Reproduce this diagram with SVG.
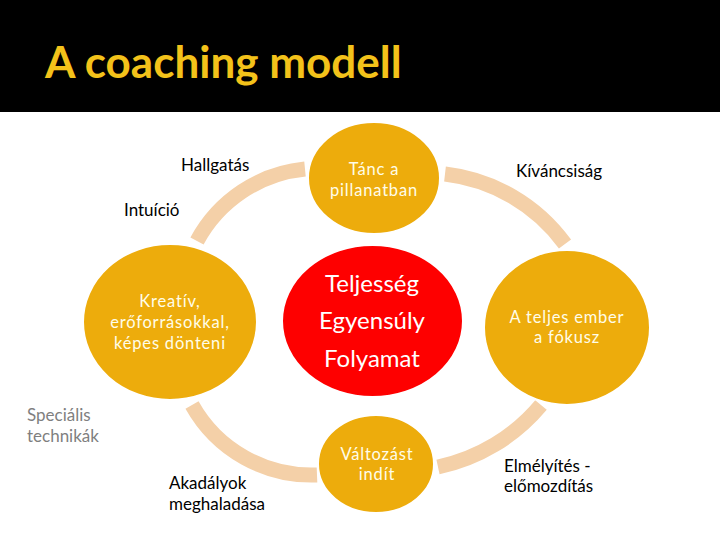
<svg xmlns="http://www.w3.org/2000/svg" width="720" height="540" viewBox="0 0 720 540">
  <style>
    .lbl { font-family: Lato, "Open Sans", "Liberation Sans", sans-serif; font-size: 17px; fill: #000; }
    .gray { fill: #7F7F7F; }
    .node { fill: #EDAC0C; stroke: #FFFFFF; stroke-width: 2; }
    .core { fill: #FE0000; stroke: #FFFFFF; stroke-width: 2; }
    .ntxt { font-family: Lato, "Open Sans", "Liberation Sans", sans-serif; font-size: 16.5px; fill: #FFFDE8; text-anchor: middle; letter-spacing: 0.8px; }
    .ctxt { font-family: Lato, "Open Sans", "Liberation Sans", sans-serif; font-size: 24px; fill: #FFFFFF; text-anchor: middle; }
    .arc { fill: none; stroke: #F4D0A8; stroke-width: 15; stroke-linecap: butt; }
  </style>
  <rect x="0" y="0" width="720" height="540" fill="#FFFFFF"/>
  <rect x="0" y="0" width="720" height="112" fill="#000000"/>
  <text x="45" y="78" font-family="Lato, 'Open Sans', 'Liberation Sans', sans-serif" font-size="44" font-weight="700" fill="#F3C21A">A coaching modell</text>

  <g id="connectors">
    <path class="arc" d="M197,241 A138,138 0 0,1 305,169"/>
    <path class="arc" d="M445,174 A173,173 0 0,1 565,244"/>
    <path class="arc" d="M192,405 A137,137 0 0,0 317,475"/>
    <path class="arc" d="M541,405 A184,184 0 0,1 438,467"/>
  </g>

  <g id="node-top">
    <ellipse class="node" cx="374" cy="178" rx="66" ry="56"/>
    <text class="ntxt" x="374" y="175">Tánc a</text>
    <text class="ntxt" x="374" y="196">pillanatban</text>
  </g>
  <g id="node-left">
    <ellipse class="node" cx="170" cy="322" rx="87" ry="78"/>
    <text class="ntxt" x="170" y="307">Kreatív,</text>
    <text class="ntxt" x="170" y="328">erőforrásokkal,</text>
    <text class="ntxt" x="170" y="349">képes dönteni</text>
  </g>
  <g id="node-center">
    <ellipse class="core" cx="372.5" cy="321" rx="90.5" ry="76"/>
    <text class="ctxt" x="372" y="292">Teljesség</text>
    <text class="ctxt" x="372" y="329">Egyensúly</text>
    <text class="ctxt" x="372" y="367">Folyamat</text>
  </g>
  <g id="node-right">
    <ellipse class="node" cx="567" cy="327.5" rx="83" ry="77.5"/>
    <text class="ntxt" x="567" y="323">A teljes ember</text>
    <text class="ntxt" x="567" y="343">a fókusz</text>
  </g>
  <g id="node-bottom">
    <ellipse class="node" cx="376" cy="464" rx="58" ry="49"/>
    <text class="ntxt" x="377" y="460">Változást</text>
    <text class="ntxt" x="377" y="480">indít</text>
  </g>

  <g id="labels">
    <text class="lbl" x="181" y="171">Hallgatás</text>
    <text class="lbl" x="124" y="216">Intuíció</text>
    <text class="lbl" x="516" y="177">Kíváncsiság</text>
    <text class="lbl gray" x="27" y="421">Speciális</text>
    <text class="lbl gray" x="27" y="442">technikák</text>
    <text class="lbl" x="169" y="489">Akadályok</text>
    <text class="lbl" x="169" y="510">meghaladása</text>
    <text class="lbl" x="504" y="472">Elmélyítés -</text>
    <text class="lbl" x="504" y="492">előmozdítás</text>
  </g>
</svg>
